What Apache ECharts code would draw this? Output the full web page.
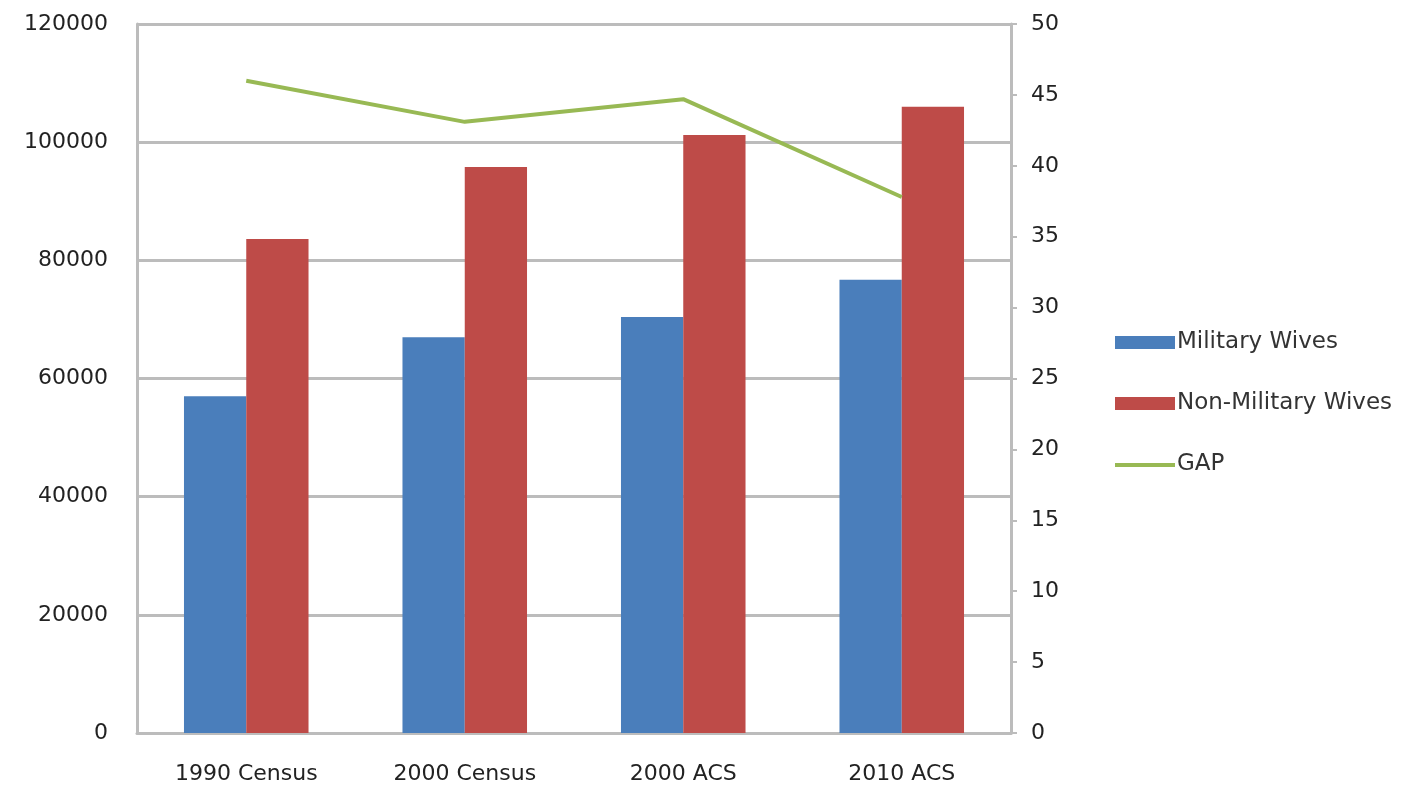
<!DOCTYPE html>
<html>
<head>
<meta charset="utf-8">
<script src="https://cdn.jsdelivr.net/npm/echarts@6/dist/echarts.min.js"></script>
<style>
    html, body { margin: 0; padding: 0; background: #fff; }
    #chart { width: 1427px; height: 789px; }
</style>
</head>
<body>
<div id="chart"></div>
<script>
// 数据部分
var categories = ["1990 Census", "2000 Census", "2000 ACS", "2010 ACS"];
var militaryWives = [57000, 67000, 70400, 76700];
var nonMilitaryWives = [83600, 95800, 101200, 106000];
var gap = [46.0, 43.1, 44.7, 37.8];

var myChart = echarts.init(document.getElementById("chart"));

var labelFont = "'DejaVu Sans', 'Open Sans', sans-serif";

var option = {
    animation: false,
    //图例
    legend: {
        orient: "vertical",
        left: 1110,
        top: 326,
        itemGap: 38,
        itemWidth: 60,
        itemHeight: 13,
        textStyle: { fontFamily: labelFont, fontSize: 23, color: "#333", padding: [0, 0, 0, -3] },
        data: [
            { name: "Military Wives", icon: "rect" },
            { name: "Non-Military Wives", icon: "rect" },
            //线条图例，只画一条横线
            { name: "GAP", icon: "path://M0,0 L0,13 M0,5 L60,5 L60,9 L0,9 Z" }
        ]
    },
    grid: {
        left: 137,
        right: 416,
        top: 24,
        bottom: 56
    },
    xAxis: [{
        type: "category",
        data: categories,
        axisLine: { lineStyle: { color: "#bcbcbc", width: 3 } },
        axisTick: { show: false },
        axisLabel: { fontFamily: labelFont, fontSize: 22, color: "#222", margin: 30 }
    }],
    yAxis: [{
        type: "value",
        min: 0,
        max: 120000,
        interval: 20000,
        axisLine: { show: true, lineStyle: { color: "#bcbcbc", width: 3 } },
        axisTick: { show: false },
        axisLabel: {
            fontFamily: labelFont, fontSize: 22, color: "#222", margin: 29,
            formatter: function (v) { return String(v); }
        },
        splitLine: { lineStyle: { color: "#bcbcbc", width: 3 } }
    }, {
        type: "value",
        min: 0,
        max: 50,
        interval: 5,
        position: "right",
        axisLine: { show: true, lineStyle: { color: "#bcbcbc", width: 3 } },
        axisTick: { show: true, length: 6, lineStyle: { color: "#bcbcbc", width: 2 } },
        axisLabel: { fontFamily: labelFont, fontSize: 22, color: "#222", margin: 20 },
        splitLine: { show: false }
    }],
    series: [{
        name: "Military Wives",
        type: "bar",
        data: militaryWives,
        barGap: "0%",
        barCategoryGap: "43%",
        itemStyle: { color: "#4a7ebb" }
    }, {
        name: "Non-Military Wives",
        type: "bar",
        data: nonMilitaryWives,
        itemStyle: { color: "#be4b48" }
    }, {
        name: "GAP",
        type: "line",
        yAxisIndex: 1,
        data: gap,
        symbol: "none",
        lineStyle: { color: "#98b954", width: 4 },
        itemStyle: { color: "#98b954" }
    }]
};

myChart.setOption(option);
</script>
</body>
</html>
